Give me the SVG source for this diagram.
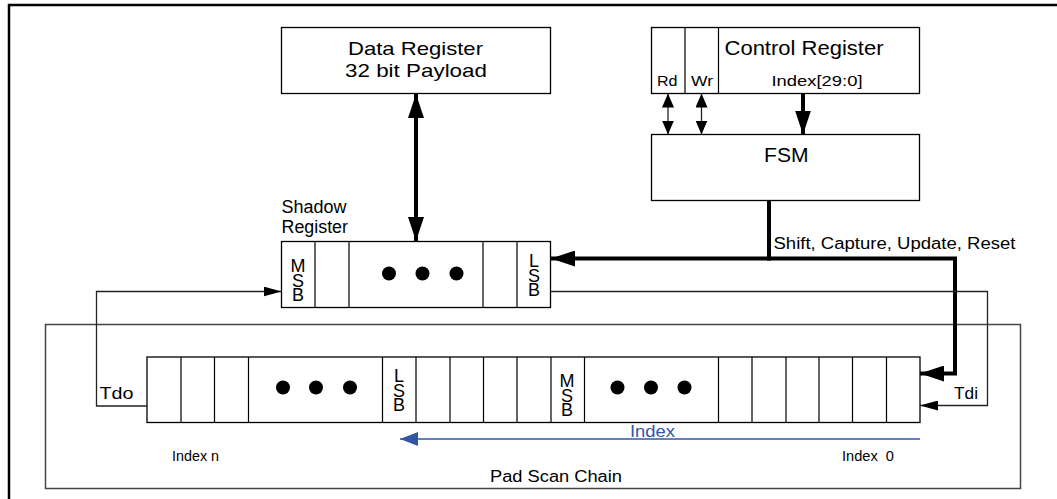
<svg xmlns="http://www.w3.org/2000/svg" width="1057" height="499" viewBox="0 0 1057 499">
<defs>
<style>
text{font-family:"Liberation Sans",Arial,sans-serif;fill:#000}
.box{fill:#fff;stroke:#000;stroke-width:1.3}
.cell{fill:none;stroke:#000;stroke-width:1.2}
.thin{fill:none;stroke:#222;stroke-width:1.3}
.thick{fill:none;stroke:#000;stroke-width:4}
.dot{fill:#000}
.bit{font-size:18px;writing-mode:vertical-rl;text-orientation:upright;letter-spacing:-5.5px}
</style>
<marker id="ah" viewBox="0 0 24 16" refX="24" refY="8" markerWidth="24" markerHeight="16" markerUnits="userSpaceOnUse" orient="auto-start-reverse"><path d="M0,0 L24,8 L0,16 Z" fill="#000"/></marker>
<marker id="ahm" viewBox="0 0 14 12" refX="14" refY="6" markerWidth="14" markerHeight="12" markerUnits="userSpaceOnUse" orient="auto-start-reverse"><path d="M0,0 L14,6 L0,12 Z" fill="#000"/></marker>
<marker id="ahs" viewBox="0 0 18 10" refX="18" refY="5" markerWidth="18" markerHeight="10" markerUnits="userSpaceOnUse" orient="auto"><path d="M0,0 L18,5 L0,10 Z" fill="#000"/></marker>
<marker id="ahb" viewBox="0 0 18 14" refX="18" refY="7" markerWidth="18" markerHeight="14" markerUnits="userSpaceOnUse" orient="auto"><path d="M0,0 L18,7 L0,14 Z" fill="#3355a8"/></marker>
</defs>
<rect width="1057" height="499" fill="#fff"/>
<path d="M9,499 L9,5 L1057,5" fill="none" stroke="#000" stroke-width="2.5"/>

<g id="pad-scan-chain">
<rect x="45.5" y="324.5" width="975" height="164" fill="none" stroke="#444" stroke-width="1.5"/>
<text x="490" y="481.5" font-size="16" textLength="132" lengthAdjust="spacingAndGlyphs">Pad Scan Chain</text>
<text x="172" y="460.5" font-size="14" textLength="47" lengthAdjust="spacingAndGlyphs">Index n</text>
<text x="842" y="460.5" font-size="14" textLength="52" lengthAdjust="spacingAndGlyphs" xml:space="preserve">Index  0</text>
</g>

<g id="data-register">
<rect class="box" x="281.5" y="27.5" width="269" height="66"/>
<text x="348" y="55" font-size="19" textLength="135" lengthAdjust="spacingAndGlyphs">Data Register</text>
<text x="345" y="77" font-size="19" textLength="142" lengthAdjust="spacingAndGlyphs">32 bit Payload</text>
</g>

<g id="control-register">
<rect class="box" x="651.5" y="27.5" width="268" height="66"/>
<path class="cell" d="M685,27.5 V93.5 M718.5,27.5 V93.5"/>
<text x="724.5" y="55" font-size="20" textLength="159" lengthAdjust="spacingAndGlyphs">Control Register</text>
<text x="657" y="86" font-size="15" textLength="20.5" lengthAdjust="spacingAndGlyphs">Rd</text>
<text x="691" y="86" font-size="15" textLength="22" lengthAdjust="spacingAndGlyphs">Wr</text>
<text x="771.5" y="86" font-size="15" textLength="91" lengthAdjust="spacingAndGlyphs">Index[29:0]</text>
</g>

<g id="fsm">
<rect class="box" x="651.5" y="134.5" width="268" height="66"/>
<text x="764" y="162" font-size="21" textLength="44.5" lengthAdjust="spacingAndGlyphs">FSM</text>
</g>

<g id="shadow-register">
<text x="281.5" y="213" font-size="18" textLength="65" lengthAdjust="spacingAndGlyphs">Shadow</text>
<text x="281.5" y="233" font-size="18" textLength="66.5" lengthAdjust="spacingAndGlyphs">Register</text>
<rect class="box" x="281.5" y="241.5" width="269" height="66"/>
<path class="cell" d="M315,241.5 V307.5 M349,241.5 V307.5 M483,241.5 V307.5 M517,241.5 V307.5"/>
<circle class="dot" cx="389" cy="273.5" r="7"/>
<circle class="dot" cx="422.5" cy="273.5" r="7"/>
<circle class="dot" cx="456.5" cy="273.5" r="7"/>
<text class="bit" x="298" y="256">MSB</text>
<text class="bit" x="534" y="251">LSB</text>
</g>

<g id="scan-chain">
<rect class="box" x="147" y="357" width="773" height="65.5"/>
<path class="cell" d="M181,357 V422.5 M214.5,357 V422.5 M248.5,357 V422.5 M382.5,357 V422.5 M416,357 V422.5 M450,357 V422.5 M483.5,357 V422.5 M517,357 V422.5 M551,357 V422.5 M584.5,357 V422.5 M718.5,357 V422.5 M752,357 V422.5 M786,357 V422.5 M819,357 V422.5 M852.5,357 V422.5 M886.5,357 V422.5"/>
<circle class="dot" cx="283" cy="387.5" r="7"/>
<circle class="dot" cx="316" cy="387.5" r="7"/>
<circle class="dot" cx="350" cy="387.5" r="7"/>
<circle class="dot" cx="617.5" cy="387.5" r="7"/>
<circle class="dot" cx="651" cy="387.5" r="7"/>
<circle class="dot" cx="684.5" cy="387.5" r="7"/>
<text class="bit" x="399" y="366">LSB</text>
<text class="bit" x="567" y="371">MSB</text>
<text x="99.5" y="398.5" font-size="16" textLength="34" lengthAdjust="spacingAndGlyphs">Tdo</text>
<text x="954" y="398.5" font-size="16" textLength="24" lengthAdjust="spacingAndGlyphs">Tdi</text>
<text x="630" y="436.5" font-size="17" fill="#3355a8" style="fill:#3355a8" textLength="45" lengthAdjust="spacingAndGlyphs">Index</text>
</g>

<g id="connectors">
<line class="thick" x1="416" y1="94" x2="416" y2="241" marker-start="url(#ah)" marker-end="url(#ah)"/>
<line class="thin" x1="668" y1="93.5" x2="668" y2="134.5" marker-start="url(#ahm)" marker-end="url(#ahm)"/>
<line class="thin" x1="701.5" y1="93.5" x2="701.5" y2="134.5" marker-start="url(#ahm)" marker-end="url(#ahm)"/>
<line class="thick" x1="803" y1="93.5" x2="803" y2="134.5" marker-end="url(#ah)"/>
<path class="thick" d="M769,200.5 V258.5"/>
<path class="thick" d="M771,258.5 H551" marker-end="url(#ah)"/>
<path class="thick" d="M767,258.5 H955 V373.5 H920" marker-end="url(#ah)"/>
<text x="773.5" y="249" font-size="16" textLength="242" lengthAdjust="spacingAndGlyphs">Shift, Capture, Update, Reset</text>
<path class="thin" d="M551,291.5 H987.5 V405.5 H920" marker-end="url(#ahs)"/>
<path class="thin" d="M147,406 H96.5 V291.5 H281.5" marker-end="url(#ahs)"/>
<line x1="920" y1="439" x2="400" y2="439" stroke="#3355a8" stroke-width="1.5" marker-end="url(#ahb)"/>
</g>
</svg>
